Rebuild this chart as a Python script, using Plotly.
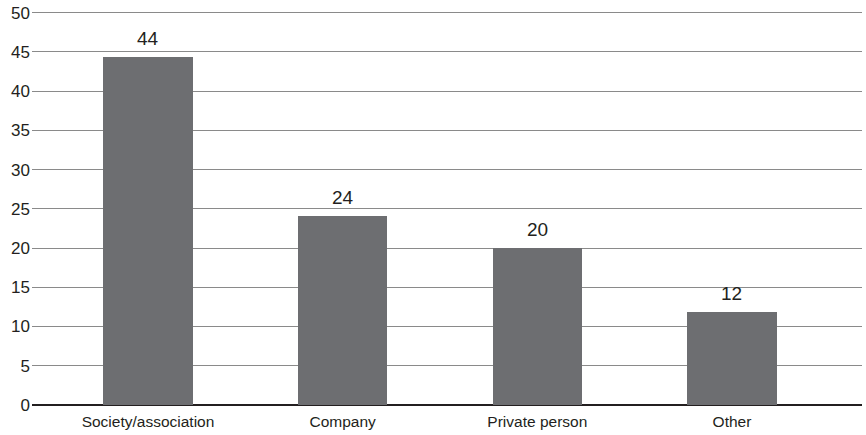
import plotly.graph_objects as go

categories = ['Society/association', 'Company', 'Private person', 'Other']
values = [44.3, 24.1, 20.0, 11.9]     # bar heights
labels = ['44', '24', '20', '12']     # printed values above bars
y_ticks = [0, 5, 10, 15, 20, 25, 30, 35, 40, 45, 50]

fig = go.Figure()
fig.add_trace(go.Bar(
    x=categories, y=values,
    width=0.46,
    marker=dict(color='#6d6e71', line=dict(width=0)),
    hoverinfo='skip',
))

# value labels sit a bit higher above the bars than plotly's outside text
for cat, val, lab in zip(categories, values, labels):
    fig.add_annotation(x=cat, y=val, text=lab, showarrow=False,
                       yanchor='bottom', yshift=6,
                       font=dict(size=19, color='#231f20'))

fig.update_layout(
    width=866, height=435,
    margin=dict(l=32, r=4, t=0, b=30, autoexpand=False),
    paper_bgcolor='white', plot_bgcolor='white',
    font=dict(family='Liberation Sans, Arial, sans-serif', color='#231f20'),
    showlegend=False,
    bargap=0,
)
fig.update_xaxes(
    range=[-0.596, 3.668], automargin=False,
    showgrid=False, showline=False, ticks='',
    tickfont=dict(size=15.5),
    ticklabelstandoff=5,
)
# headroom above 50 so the top gridline and its label stay inside the plot
fig.update_yaxes(
    range=[0, 51.62], tickvals=y_ticks, automargin=False,
    showgrid=True, gridcolor='#8a8a8a', gridwidth=1,
    zeroline=True, zerolinecolor='#231f20', zerolinewidth=1.5,
    showline=False, ticks='',
    tickfont=dict(size=17),
    ticklabelstandoff=1,
)

# drop the default 8px page margin so the chart fills the window
fig.write_html('out.html', config={'displayModeBar': False},
               post_script="document.body.style.margin='0';")
